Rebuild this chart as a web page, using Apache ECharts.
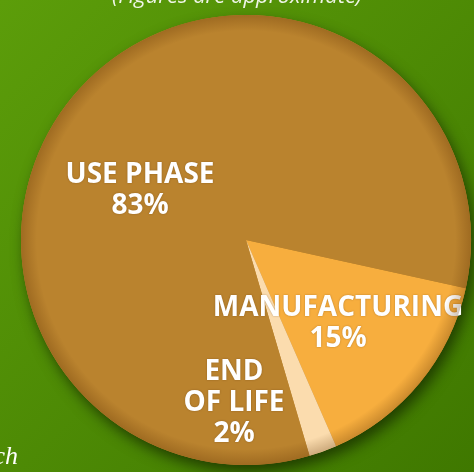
<!DOCTYPE html>
<meta charset="utf-8">
<title>Life cycle energy</title>
<style>
  html, body { margin: 0; padding: 0; background: #4f8c05; }
  #main { width: 474px; height: 472px; }
</style>
<body>
  <script src="https://cdn.jsdelivr.net/npm/echarts@6/dist/echarts.min.js"></script>
  <div id="main"></div>

  <script type="text/javascript">
      // phases of the life cycle, in drawing order (clockwise)
      var phases = ['MANUFACTURING', 'END\nOF LIFE', 'USE PHASE'];
      var shares = [15, 2, 83];
      var colors = ['#f7ae3e', '#fbdcae', '#ba832e'];

      // where each label block sits
      var labelSpots = [[338, 324], [234, 403], [140, 191]];

      var center = [246, 240];
      var radius = 225;

      var myChart = echarts.init(document.getElementById('main'));

      var option = {
          animation: false,
          backgroundColor: new echarts.graphic.LinearGradient(0, 0, 1, 1, [
              { offset: 0, color: '#5c9d0a' },
              { offset: 1, color: '#3f7800' }
          ]),
          graphic: [
              {
                  type: 'text', left: 'center', top: -14,
                  style: {
                      text: '(Figures are approximate)',
                      font: 'italic 22px "Open Sans"',
                      fill: 'rgba(255,255,255,0.9)'
                  }
              },
              {
                  type: 'text', right: 456, bottom: 2,
                  style: {
                      text: 'ch',
                      font: 'italic 26px "Liberation Serif"',
                      fill: '#ffffff'
                  }
              }
          ],
          series: [
              // base disc with drop shadow
              {
                  type: 'pie', silent: true, z: 1,
                  center: center, radius: radius,
                  label: { show: false },
                  itemStyle: {
                      color: '#ba832e',
                      shadowBlur: 14,
                      shadowOffsetX: 4,
                      shadowOffsetY: 7,
                      shadowColor: 'rgba(20,40,0,0.75)'
                  },
                  data: [1]
              },
              {
                  type: 'pie', z: 2,
                  center: center, radius: radius,
                  startAngle: -12.4,
                  clockwise: true,
                  avoidLabelOverlap: false,
                  itemStyle: { borderWidth: 0 },
                  label: {
                      show: true,
                      position: 'inside',
                      formatter: '{b}\n{c}%',
                      color: '#ffffff',
                      fontFamily: 'Open Sans',
                      fontWeight: 'bold',
                      fontSize: 28,
                      lineHeight: 31,
                      align: 'center',
                      textShadowColor: 'rgba(60,30,0,0.35)',
                      textShadowBlur: 2
                  },
                  labelLine: { show: false },
                  labelLayout: function (params) {
                      var p = labelSpots[params.dataIndex];
                      return { x: p[0], y: p[1], align: 'center', verticalAlign: 'middle' };
                  },
                  emphasis: { disabled: true },
                  data: phases.map(function (name, i) {
                      return { name: name, value: shares[i], itemStyle: { color: colors[i] } };
                  })
              },
              // soft rim shading
              {
                  type: 'pie', silent: true, z: 3,
                  center: center, radius: radius,
                  label: { show: false },
                  itemStyle: {
                      color: new echarts.graphic.RadialGradient(0.5, 0.5, 0.5, [
                          { offset: 0, color: 'rgba(90,45,0,0)' },
                          { offset: 0.93, color: 'rgba(90,45,0,0)' },
                          { offset: 1, color: 'rgba(90,45,0,0.28)' }
                      ])
                  },
                  data: [1]
              }
          ]
      };

      myChart.setOption(option);
  </script>
</body>
